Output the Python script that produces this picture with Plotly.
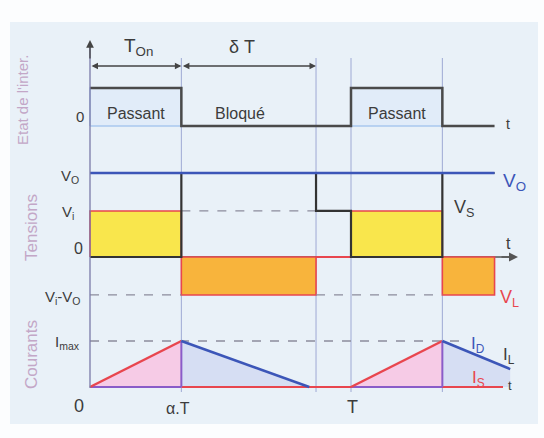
import plotly.graph_objects as go

W, H = 544, 438

# ---------------- data (time in units of T) ----------------
alpha = 0.35          # switch-off instant (alpha.T)
t_zero_v = 0.866      # instant where V_S drops to V_i
t_zero_i = 0.84       # instant where I_L reaches zero
t_end = 1.55          # end of drawn waveforms
t_end_i = 1.61        # end of I_D segment

# switch state
t_state = [0, alpha, alpha, 1, 1, 1 + alpha, 1 + alpha, t_end]
state = [1, 1, 0, 0, 1, 1, 0, 0]

# voltages (V_O = 1)
Vo = 1.0
Vi = 0.548
t_vs = [0, alpha, alpha, t_zero_v, t_zero_v, 1, 1, 1 + alpha, 1 + alpha, t_end]
vs = [0, 0, Vo, Vo, Vi, Vi, 0, 0, Vo, Vo]
on_intervals = [(0, alpha), (1, 1 + alpha)]
off_intervals = [(alpha, t_zero_v), (1 + alpha, t_end)]

# currents (I_max = 1)
t_is = [[0, alpha], [1, 1 + alpha]]
i_is = [[0, 1], [0, 1]]
t_id = [[alpha, t_zero_i], [1 + alpha, t_end_i]]
i_id = [[1, 0], [1, 0.39]]

# ---------------- layout helpers ----------------
X0, TPX = 90, 261
xr = [-X0 / TPX, (W - X0) / TPX]

def yrange(p1, p0):
    s = p0 - p1
    r1 = 1 + p1 / s
    return [r1 - H / s, r1]

def pv(p1, p0, pix):
    return (p0 - pix) / (p0 - p1)

ST = (88, 126)
VT = (173, 257)
CU = (341, 387)

def xd(pix):
    return (pix - X0) / TPX

FONT = "Liberation Sans, Arial, sans-serif"
DARK = "#3c3c3c"
BLUE = "#3c56b8"
RED = "#e8464e"
GUIDE = "#9ea9d4"

fig = go.Figure()

# panel background
shapes = [dict(type="rect", xref="paper", yref="paper", x0=10 / W, x1=538 / W,
               y0=1 - 424 / H, y1=1 - 22 / H, fillcolor="#e9f1f8", line=dict(width=0), layer="below")]

# guide verticals
for t, top in [(alpha, 58), (t_zero_v, 58), (1, 58), (1 + alpha, 58)]:
    shapes.append(dict(type="line", xref="x", yref="paper", x0=t, x1=t,
                       y0=1 - 392 / H, y1=1 - top / H, line=dict(color=GUIDE, width=1), layer="below"))
# main vertical axis
shapes.append(dict(type="line", xref="x", yref="paper", x0=0, x1=0,
                   y0=1 - 388 / H, y1=1 - 46 / H, line=dict(color="#7a7aa8", width=1.3)))

# ---------- top panel : switch state ----------
for a, b in on_intervals:
    fig.add_trace(go.Scatter(x=[a, b, b, a, a], y=[0, 0, 1, 1, 0], yaxis="y", mode="lines",
                             fill="toself", fillcolor="#e1ecf9", line=dict(color="#a9c8ee", width=1.5),
                             hoverinfo="skip", showlegend=False))
fig.add_trace(go.Scatter(x=t_state, y=state, yaxis="y", mode="lines",
                         line=dict(color="#4a4a4a", width=2.5), showlegend=False, hoverinfo="skip"))

# ---------- middle panel : voltages ----------
# t axis line
fig.add_trace(go.Scatter(x=[0, xd(512)], y=[0, 0], yaxis="y2", mode="lines",
                         line=dict(color="#555555", width=1.5), showlegend=False, hoverinfo="skip"))
for a, b in on_intervals:
    fig.add_trace(go.Scatter(x=[a, b, b, a, a], y=[0, 0, Vi, Vi, 0], yaxis="y2", mode="lines",
                             fill="toself", fillcolor="#f9e64c", line=dict(color=RED, width=1.6),
                             showlegend=False, hoverinfo="skip"))
for a, b in off_intervals:
    fig.add_trace(go.Scatter(x=[a, b, b, a, a], y=[0, 0, Vi - Vo, Vi - Vo, 0], yaxis="y2", mode="lines",
                             fill="toself", fillcolor="#f8b43c", line=dict(color=RED, width=1.6),
                             showlegend=False, hoverinfo="skip"))
fig.add_trace(go.Scatter(x=[t_zero_v, 1], y=[0, 0], yaxis="y2", mode="lines",
                         line=dict(color=RED, width=2), showlegend=False, hoverinfo="skip"))
# dashed references
for xs, yv in [([alpha, t_zero_v], Vi), ([0, alpha], Vi - Vo), ([t_zero_v, 1 + alpha], Vi - Vo)]:
    fig.add_trace(go.Scatter(x=xs, y=[yv, yv], yaxis="y2", mode="lines",
                             line=dict(color="#8c8c9c", width=1.3, dash="dash"),
                             showlegend=False, hoverinfo="skip"))
fig.add_trace(go.Scatter(x=t_vs, y=vs, yaxis="y2", mode="lines",
                         line=dict(color="#333333", width=2.2), showlegend=False, hoverinfo="skip"))
fig.add_trace(go.Scatter(x=[0, t_end], y=[Vo, Vo], yaxis="y2", mode="lines",
                         line=dict(color=BLUE, width=2.5), showlegend=False, hoverinfo="skip"))

# ---------- bottom panel : currents ----------
fig.add_trace(go.Scatter(x=[0, xd(460)], y=[1, 1], yaxis="y3", mode="lines",
                         line=dict(color="#8c8c9c", width=1.3, dash="dash"),
                         showlegend=False, hoverinfo="skip"))
for xs, ys in zip(t_is, i_is):
    fig.add_trace(go.Scatter(x=[xs[0], xs[1], xs[1], xs[0]], y=[ys[0], ys[1], 0, 0], yaxis="y3",
                             mode="lines", fill="toself", fillcolor="#f6cbe6", line=dict(width=0),
                             showlegend=False, hoverinfo="skip"))
for xs, ys in zip(t_id, i_id):
    fig.add_trace(go.Scatter(x=[xs[0], xs[1], xs[1], xs[0]], y=[ys[0], ys[1], 0, 0], yaxis="y3",
                             mode="lines", fill="toself", fillcolor="#d6def3", line=dict(width=0),
                             showlegend=False, hoverinfo="skip"))
# baselines
fig.add_trace(go.Scatter(x=[alpha, xd(503)], y=[0, 0], yaxis="y3", mode="lines",
                         line=dict(color=RED, width=2), showlegend=False, hoverinfo="skip"))
for xs in t_is:
    fig.add_trace(go.Scatter(x=xs, y=[0, 0], yaxis="y3", mode="lines",
                             line=dict(color="#8a5cc8", width=2), showlegend=False, hoverinfo="skip"))
for xs, ys in zip(t_is, i_is):
    fig.add_trace(go.Scatter(x=xs, y=ys, yaxis="y3", mode="lines",
                             line=dict(color=RED, width=2.5), showlegend=False, hoverinfo="skip"))
    fig.add_trace(go.Scatter(x=[xs[1], xs[1]], y=[0, ys[1]], yaxis="y3", mode="lines",
                             line=dict(color="#8a5cc8", width=2), showlegend=False, hoverinfo="skip"))
for xs, ys in zip(t_id, i_id):
    fig.add_trace(go.Scatter(x=xs, y=ys, yaxis="y3", mode="lines",
                             line=dict(color=BLUE, width=2.5), showlegend=False, hoverinfo="skip"))

# ---------------- annotations ----------------
ann = []

def lab(text, x, y, size=15, color=DARK, **kw):
    d = dict(text=text, xref="paper", yref="paper", x=x / W, y=1 - y / H, showarrow=False,
             xanchor="center", yanchor="middle", font=dict(family=FONT, size=size, color=color))
    d.update(kw)
    ann.append(d)

LBL = "#c3a7c7"
lab("Etat de l'inter.", 22, 100, 15, LBL, textangle=-90)
lab("Tensions", 31, 228, 17, LBL, textangle=-90)
lab("Courants", 31, 355, 17, LBL, textangle=-90)

lab("T<sub>On</sub>", 138, 47, 19)
lab("δ T", 242, 47, 18)
lab("0", 80, 116, 15)
lab("Passant", 136, 113, 16)
lab("Bloqué", 240, 113, 16)
lab("Passant", 397, 113, 16)
lab("t", 508, 124, 14)

lab("V<sub>O</sub>", 70, 176, 15)
lab("V<sub>i</sub>", 68, 213, 15)
lab("0", 78, 248, 16)
lab("V<sub>i</sub>-V<sub>O</sub>", 63, 297, 15)
lab("V<sub>O</sub>", 514, 182, 19, BLUE)
lab("V<sub>S</sub>", 464, 208, 18)
lab("t", 508, 243, 16)
lab("V<sub>L</sub>", 509, 298, 18, RED)

lab("I<sub>max</sub>", 67, 342, 15)
lab("0", 79, 406, 18)
lab("α.T", 178, 408, 16)
lab("T", 352, 407, 18)
lab("I<sub>D</sub>", 478, 345, 17, BLUE)
lab("I<sub>L</sub>", 509, 356, 17)
lab("I<sub>S</sub>", 478, 379, 17, RED)
lab("t", 510, 385, 13)

# dimension arrows (state axis coordinates)
ya = pv(*ST, 66)
for a, b in [(0, alpha), (alpha, t_zero_v)]:
    ann.append(dict(x=b, y=ya, ax=a, ay=ya, xref="x", yref="y", axref="x", ayref="y", text="",
                    showarrow=True, arrowhead=2, arrowsize=1, arrowwidth=1.3, arrowside="end+start",
                    arrowcolor="#444444", startarrowhead=2, startarrowsize=1))
# vertical axis arrow
ann.append(dict(x=0, y=pv(*ST, 40), ax=0, ay=pv(*ST, 60), xref="x", yref="y", axref="x", ayref="y",
                text="", showarrow=True, arrowhead=2, arrowsize=1.2, arrowwidth=1.3, arrowcolor="#444444"))
# t axis arrow (voltage)
ann.append(dict(x=xd(518), y=0, ax=xd(500), ay=0, xref="x", yref="y2", axref="x", ayref="y2",
                text="", showarrow=True, arrowhead=2, arrowsize=1.2, arrowwidth=1.5, arrowcolor="#555555"))

fig.update_layout(
    width=W, height=H, margin=dict(l=0, r=0, t=0, b=0),
    paper_bgcolor="#fcfdfe", plot_bgcolor="rgba(0,0,0,0)",
    xaxis=dict(range=xr, visible=False, domain=[0, 1]),
    yaxis=dict(range=yrange(*ST), visible=False, domain=[0, 1]),
    yaxis2=dict(range=yrange(*VT), visible=False, overlaying="y"),
    yaxis3=dict(range=yrange(*CU), visible=False, overlaying="y"),
    shapes=shapes, annotations=ann, showlegend=False,
)

fig.write_html("out.html")
